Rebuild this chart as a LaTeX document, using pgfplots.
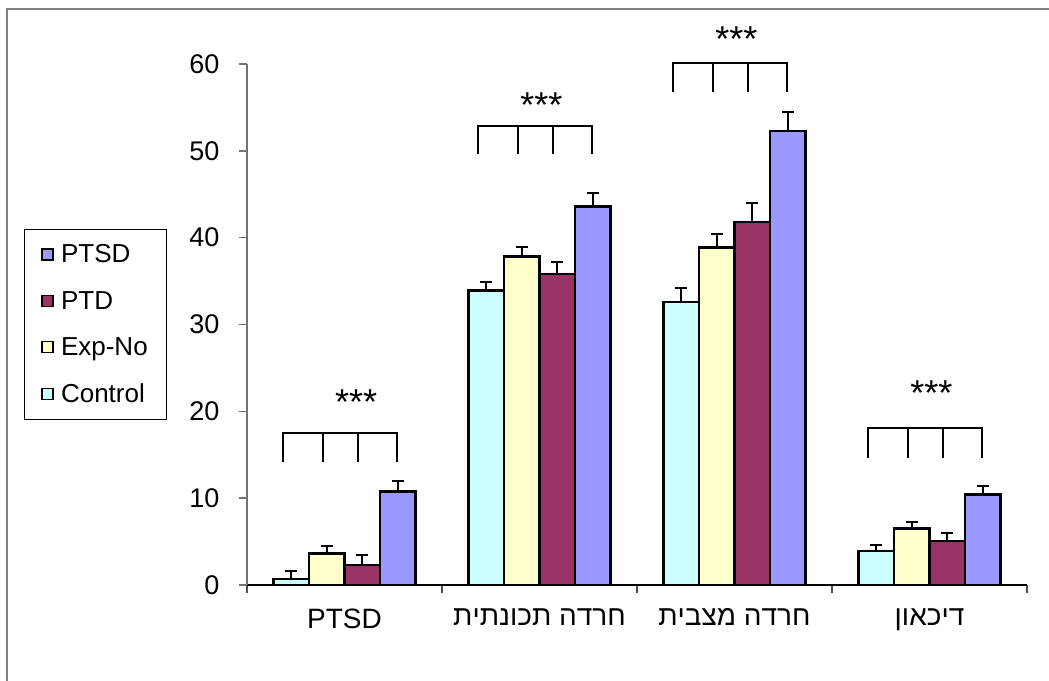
\documentclass[border=0pt]{standalone}
\usepackage{pgfplots}
\pgfplotsset{compat=1.18}
\usepackage{fontspec}
\setmainfont{Liberation Sans}
\TeXXeTstate=1
\definecolor{cctrl}{HTML}{CCFFFF}
\definecolor{cexp}{HTML}{FFFFCC}
\definecolor{cptd}{HTML}{993366}
\definecolor{cptsd}{HTML}{9999FF}
\begin{document}
\begin{tikzpicture}
\useasboundingbox (0pt,0pt) rectangle (1049pt,680pt);
\draw[black!50, line width=2pt] (7pt,-2pt) -- (7pt,671pt) -- (1051pt,671pt);
\begin{axis}[
  at={(247pt,95pt)}, anchor=south west,
  scale only axis, width=780pt, height=521pt,
  xmin=-0.5, xmax=3.5, ymin=0, ymax=60,
  clip=false,
  ybar=0pt, bar width=35.5pt,
  axis x line*=bottom, axis y line*=left,
  x axis line style={line width=1.2pt, black},
  y axis line style={line width=1.4pt, black!55},
  xtick={0,1,2,3},
  xticklabels={PTSD,{\beginR חרדה תכונתית\endR},{\beginR חרדה מצבית\endR},{\beginR דיכאון\endR}},
  minor xtick={-0.5,0.5,1.5,2.5,3.5},
  major x tick style={draw=none},
  minor tick length=8pt, major tick length=8pt,
  tick align=outside,
  x tick style={black!70, line width=1.2pt},
  y tick style={black!55, line width=1.4pt},
  ytick={0,10,...,60},
  /pgf/number format/assume math mode=true,
  xticklabel style={font=\fontsize{28}{32}\selectfont, yshift=-12pt},
  yticklabel style={font=\fontsize{27}{31}\selectfont, xshift=-16pt},
  error bars/y dir=plus, error bars/y explicit,
  error bars/error bar style={line width=2pt, black},
  error bars/error mark options={rotate=90, mark size=6pt, line width=2pt, black},
  legend image code/.code={\draw[#1, draw=black, line width=1.2pt] (0pt,-5.5pt) rectangle (11pt,5.5pt); \path[draw=none, fill=none] (0pt,0pt) -- (17pt,0pt);},
  reverse legend,
  legend style={at={(-0.286,0.683)}, anchor=north west, draw=black, line width=1pt,
    font=\fontsize{26}{30}\selectfont, row sep=23pt, inner xsep=17pt, inner ysep=13pt,
    cells={anchor=west}},
]
\addplot[fill=cctrl, draw=black, line width=2.6pt] coordinates {(0,0.7) +- (0,0.95) (1,33.9) +- (0,1.0) (2,32.6) +- (0,1.6) (3,3.9) +- (0,0.7)};
\addlegendentry{Control}
\addplot[fill=cexp, draw=black, line width=2.6pt] coordinates {(0,3.65) +- (0,0.85) (1,37.8) +- (0,1.1) (2,38.9) +- (0,1.5) (3,6.5) +- (0,0.7)};
\addlegendentry{Exp-No}
\addplot[fill=cptd, draw=black, line width=2.6pt] coordinates {(0,2.3) +- (0,1.2) (1,35.8) +- (0,1.4) (2,41.8) +- (0,2.2) (3,5.07) +- (0,0.95)};
\addlegendentry{PTD}
\addplot[fill=cptsd, draw=black, line width=2.6pt] coordinates {(0,10.75) +- (0,1.25) (1,43.6) +- (0,1.5) (2,52.3) +- (0,2.2) (3,10.45) +- (0,0.95)};
\addlegendentry{PTSD}
% significance brackets
\draw[line width=2pt] (axis cs:-0.315,14.2) -- (axis cs:-0.315,17.5) -- (axis cs:0.267,17.5) -- (axis cs:0.267,14.2);
\draw[line width=2pt] (axis cs:-0.11,14.2) -- (axis cs:-0.11,17.5);
\draw[line width=2pt] (axis cs:0.07,14.2) -- (axis cs:0.07,17.5);
\draw[line width=2pt] (axis cs:0.685,49.65) -- (axis cs:0.685,52.9) -- (axis cs:1.267,52.9) -- (axis cs:1.267,49.65);
\draw[line width=2pt] (axis cs:0.89,49.65) -- (axis cs:0.89,52.9);
\draw[line width=2pt] (axis cs:1.07,49.65) -- (axis cs:1.07,52.9);
\draw[line width=2pt] (axis cs:1.685,56.8) -- (axis cs:1.685,60.06) -- (axis cs:2.267,60.06) -- (axis cs:2.267,56.8);
\draw[line width=2pt] (axis cs:1.89,56.8) -- (axis cs:1.89,60.06);
\draw[line width=2pt] (axis cs:2.07,56.8) -- (axis cs:2.07,60.06);
\draw[line width=2pt] (axis cs:2.685,14.6) -- (axis cs:2.685,18.05) -- (axis cs:3.267,18.05) -- (axis cs:3.267,14.6);
\draw[line width=2pt] (axis cs:2.89,14.6) -- (axis cs:2.89,18.05);
\draw[line width=2pt] (axis cs:3.07,14.6) -- (axis cs:3.07,18.05);
\node[font=\fontsize{36}{40}\selectfont] at (axis cs:0.06,21.05) {***};
\node[font=\fontsize{36}{40}\selectfont] at (axis cs:1.01,55.25) {***};
\node[font=\fontsize{36}{40}\selectfont] at (axis cs:2.01,62.85) {***};
\node[font=\fontsize{36}{40}\selectfont] at (axis cs:3.01,22.15) {***};
\end{axis}
\end{tikzpicture}
\end{document}
